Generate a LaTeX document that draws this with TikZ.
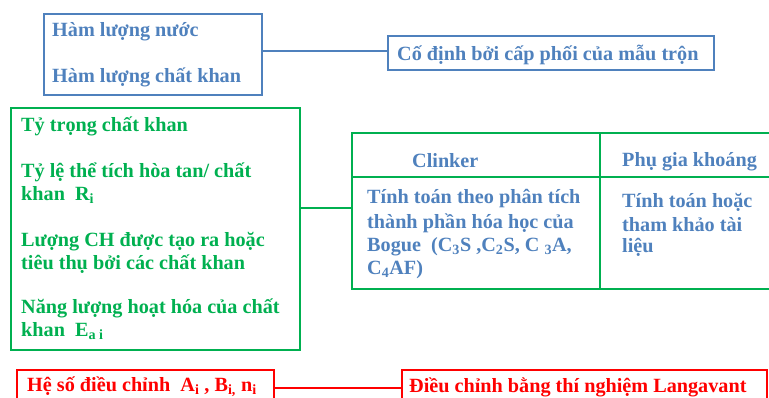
\documentclass[tikz,border=0pt]{standalone}
\usepackage{fontspec}
\setmainfont{Liberation Serif}
\definecolor{cblue}{RGB}{79,129,189}
\definecolor{cgreen}{RGB}{0,176,80}
\definecolor{cred}{RGB}{255,0,0}
\begin{document}
\begin{tikzpicture}[x=1pt,y=-1pt,
  lbl/.style={anchor=base west,inner sep=0pt,font=\bfseries\fontsize{20.2}{23}\selectfont},
  bl/.style={lbl,text=cblue},
  gr/.style={lbl,text=cgreen},
  rd/.style={lbl,text=cred},
  bbox/.style={draw=cblue,line width=1.7pt},
  gbox/.style={draw=cgreen,line width=1.7pt},
  rbox/.style={draw=cred,line width=1.7pt},
  link/.style={line width=1.7pt}]
\useasboundingbox (0,0) rectangle (769,397);
\clip (0,0) rectangle (769,397);
% blue boxes
\draw[bbox] (44,14) rectangle (262,95);
\node[bl] (b1) at (52,36) {Hàm lượng nước};
\node[bl] (b2) at (52,82) {Hàm lượng chất khan};
\coordinate (b1r) at (262,51);
\coordinate (b2l) at (388,51);
\draw[bbox] (388,36) rectangle (714,70);
\node[bl] (c1) at (397,60) {Cố định bởi cấp phối của mẫu trộn};
\draw[link,draw=cblue] (b1r) -- (b2l);
% green box
\draw[gbox] (11,108) rectangle (300,350);
\node[gr] (g1) at (21,131) {Tỷ trọng chất khan};
\node[gr] (g2) at (21,177) {Tỷ lệ thể tích hòa tan/ chất};
\node[gr] (g3) at (21,200) {khan\ \ R\textsubscript{i}};
\node[gr] (g4) at (21,246) {Lượng CH được tạo ra hoặc};
\node[gr] (g5) at (21,269) {tiêu thụ bởi các chất khan};
\node[gr] (g6) at (21,313) {Năng lượng hoạt hóa của chất};
\node[gr] (g7) at (21,336) {khan\ \ E\textsubscript{a i}};
\coordinate (gr) at (300,208);
\coordinate (tl) at (352,208);
\draw[link,draw=cgreen] (gr) -- (tl);
% table
\draw[gbox] (352,133) rectangle (790,289);
\draw[gbox] (352,177) -- (790,177);
\draw[gbox] (600,133) -- (600,289);
\node[bl] (t1) at (412,167) {Clinker};
\node[bl] (t2) at (622,166) {Phụ gia khoáng};
\node[bl] (t3) at (367,203) {Tính toán theo phân tích};
\node[bl] (t4) at (367,228) {thành phần hóa học của};
\node[bl] (t5) at (367,251) {Bogue\ \ (C\textsubscript{3}S ,C\textsubscript{2}S, C \textsubscript{3}A,};
\node[bl] (t6) at (367,274) {C\textsubscript{4}AF)};
\node[bl] (t7) at (622,207) {Tính toán hoặc};
\node[bl] (t8) at (622,231) {tham khảo tài};
\node[bl] (t9) at (622,252) {liệu};
% red boxes
\draw[rbox] (17,370) rectangle (274,410);
\node[rd] (r1) at (27,391) {Hệ số điều chỉnh\ \ A\textsubscript{i} , B\textsubscript{i,} n\textsubscript{i}};
\draw[rbox] (402,370) rectangle (767,410);
\node[rd] (r2) at (409,392) {Điều chỉnh bằng thí nghiệm Langavant};
\coordinate (rr) at (274,388);
\coordinate (rl) at (402,388);
\draw[link,draw=cred] (rr) -- (rl);
\end{tikzpicture}
\end{document}
